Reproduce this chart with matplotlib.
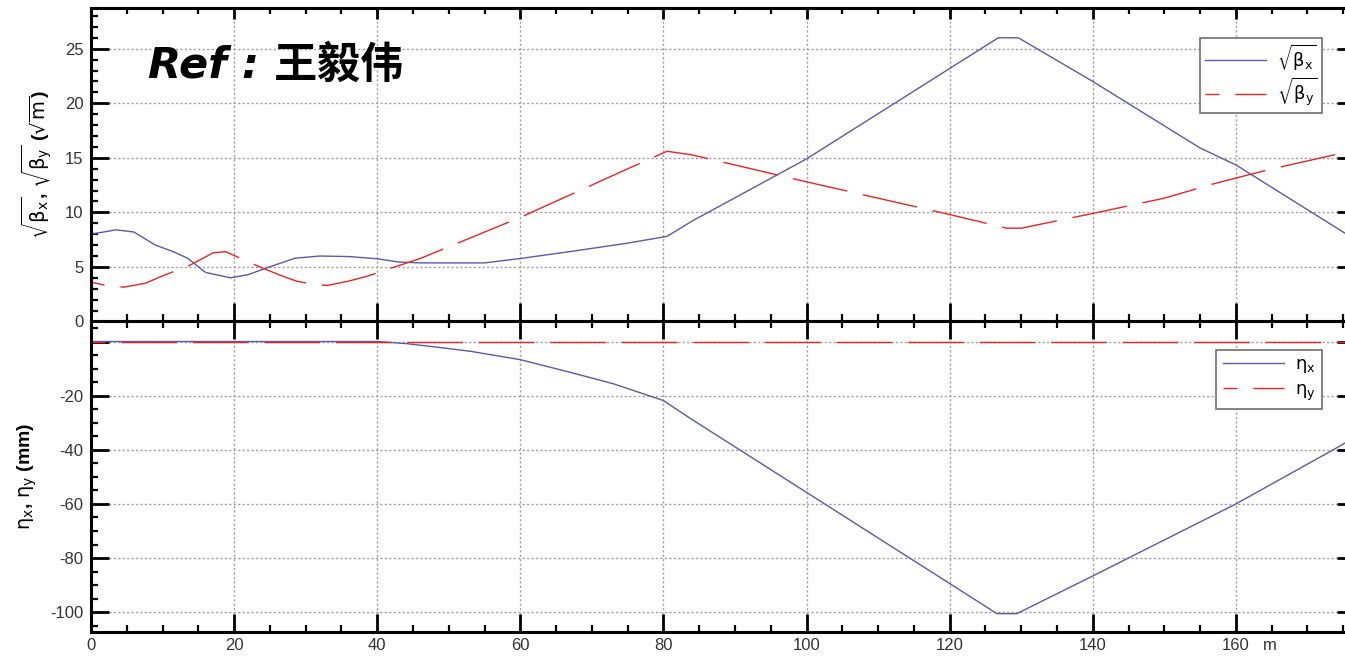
import matplotlib
matplotlib.use("Agg")
import matplotlib.pyplot as plt
from matplotlib.ticker import MultipleLocator, FixedLocator, FixedFormatter

plt.rcParams['font.family'] = ['Liberation Sans', 'DejaVu Sans']
plt.rcParams['mathtext.fontset'] = 'dejavusans'

#############################
####### Lattice data ########

# sqrt(beta) functions along the line (s in m, values in sqrt(m))
s_bx = [0, 3.5, 6, 9, 11.5, 13.5, 16, 19.5, 22, 24.5, 28.5, 32, 36, 40, 43, 46, 55, 60,
        67.3, 74.7, 80.5, 84, 100, 126.8, 129.6, 140, 155, 160, 175.3]
sqrt_bx = [8.0, 8.4, 8.2, 7.0, 6.4, 5.8, 4.5, 4.0, 4.3, 4.9, 5.8, 6.0, 5.95, 5.75, 5.45, 5.37, 5.37, 5.77,
           6.44, 7.15, 7.8, 9.2, 14.9, 26.0, 26.0, 22.0, 15.9, 14.35, 8.07]

s_by = [0, 2.5, 4.6, 7.6, 9.9, 13.8, 17.1, 18.8, 23.6, 26.4, 28.7, 31, 33, 36, 38.6, 46, 60,
        74.7, 80.5, 84, 100, 120, 128, 130, 140, 150, 156.8, 164.5, 175.3]
sqrt_by = [3.6, 3.25, 3.15, 3.5, 4.15, 5.15, 6.3, 6.4, 5.0, 4.25, 3.7, 3.4, 3.3, 3.7, 4.15, 5.77, 9.54,
           13.9, 15.6, 15.27, 12.8, 9.8, 8.55, 8.55, 9.9, 11.3, 12.6, 13.9, 15.5]

# dispersion (mm)
s_eta = [0, 40, 44, 48.4, 53, 60, 67, 73, 80, 83.7, 126.6, 129.4, 140, 160, 173.6, 175.3]
eta_x = [0, 0, -0.75, -2.1, -3.6, -6.7, -11.4, -15.6, -21.8, -28.3, -100.5, -100.5, -86.6, -60, -40, -37.4]
s_etay = [0, 175.3]
eta_y = [0, 0]

x_ticks = [0, 20, 40, 60, 80, 100, 120, 140, 160]
x_ticklabels = ['0', '20', '40', '60', '80', '100', '120', '140', '160']
bt_ticks = [0, 5, 10, 15, 20, 25]
eta_ticks = [-100, -80, -60, -40, -20, 0]
eta_ticklabels = ['-100', '-80', '-60', '-40', '-20', '']

##### end of data #####
#############################

blue = '#5a5aa6'
red = '#e32626'
dash = (30, (40, 11.5))

fig = plt.figure(figsize=(13.45, 6.6), dpi=100)
ax1 = fig.add_axes([91/1345, 0.5129, 1264/1345, 0.4745])
ax2 = fig.add_axes([91/1345, 0.0424, 1264/1345, 0.4705])

xmax = 176.65

def style_axis(ax):
    ax.set_xlim(0, xmax)
    ax.xaxis.set_major_locator(FixedLocator(x_ticks))
    ax.xaxis.set_minor_locator(MultipleLocator(5))
    for sp in ax.spines.values():
        sp.set_linewidth(2.2)
    ax.tick_params(which='both', direction='in', top=True, right=True,
                   colors='black', labelcolor='#333333', labelsize=12)
    ax.tick_params(which='major', length=13, width=2.0, pad=5.5)
    ax.tick_params(which='minor', length=5, width=1.6)
    ax.grid(True, which='major', color='#a0a0a0', linestyle=(0, (1.6, 1.6)), linewidth=1.0)
    ax.set_axisbelow(True)

style_axis(ax1)
style_axis(ax2)

# top panel: sqrt(beta)
ax1.plot(s_bx, sqrt_bx, color=blue, lw=1.0, label=r'$\sqrt{\mathrm{\beta_x}}$')
ax1.plot(s_by, sqrt_by, color=red, lw=1.0, linestyle=dash, label=r'$\sqrt{\mathrm{\beta_y}}$')
ax1.set_ylim(0, 28.7)
ax1.yaxis.set_major_locator(FixedLocator(bt_ticks))
ax1.yaxis.set_minor_locator(MultipleLocator(1))
ax1.tick_params(axis='x', labelbottom=False)
# shorter ticks along the very top edge
for t in ax1.xaxis.get_major_ticks():
    t.tick2line.set_markersize(8)
for t in ax1.xaxis.get_minor_ticks():
    t.tick2line.set_markersize(4)
ax1.set_ylabel(r'$\sqrt{\mathrm{\beta_x}}$, $\sqrt{\mathrm{\beta_y}}$ ($\sqrt{\mathrm{m}}$)',
               fontsize=14, fontweight='bold', labelpad=8)

leg1 = ax1.legend(loc='upper right', bbox_to_anchor=(1322/1345, 1 - 38/660),
                  bbox_transform=fig.transFigure, borderaxespad=0, fontsize=13,
                  handlelength=3.4, handletextpad=0.6, labelspacing=0.2,
                  borderpad=0.25, fancybox=False, framealpha=1)
leg1.get_frame().set_edgecolor('#707070')
leg1.get_frame().set_linewidth(1.2)

# bottom panel: dispersion
ax2.plot(s_eta, eta_x, color=blue, lw=1.0, label=r'$\mathrm{\eta_x}$')
ax2.plot(s_etay, eta_y, color=red, lw=1.0, linestyle=dash, label=r'$\mathrm{\eta_y}$')
ax2.set_ylim(-107.3, 7.4)
ax2.yaxis.set_major_locator(FixedLocator(eta_ticks))
ax2.yaxis.set_major_formatter(FixedFormatter(eta_ticklabels))
ax2.yaxis.set_minor_locator(MultipleLocator(5))
ax2.xaxis.set_major_formatter(FixedFormatter(x_ticklabels))
ax2.tick_params(axis='x', which='major', pad=4)
ax2.set_ylabel(r'$\mathrm{\eta_x}$, $\mathrm{\eta_y}$ (mm)', fontsize=14, fontweight='bold', labelpad=8)
ax2.annotate('m', xy=(164.8, 0), xycoords=('data', 'axes fraction'),
             xytext=(0, -4), textcoords='offset points',
             ha='center', va='top', fontsize=12, color='#333333')

leg2 = ax2.legend(loc='upper right', bbox_to_anchor=(1322/1345, 1 - 350/660),
                  bbox_transform=fig.transFigure, borderaxespad=0, fontsize=13,
                  handlelength=3.4, handletextpad=0.6, labelspacing=0.35,
                  borderpad=0.35, fancybox=False, framealpha=1)
leg2.get_frame().set_edgecolor('#707070')
leg2.get_frame().set_linewidth(1.2)

# reference stamp
fig.text(148/1345, 1 - 66/660, 'Ref : 王毅伟', fontsize=31, fontweight='bold',
         fontstyle='italic', family=['DejaVu Sans', 'Noto Sans CJK SC'],
         ha='left', va='center')

fig.savefig('out.png', dpi=100)
